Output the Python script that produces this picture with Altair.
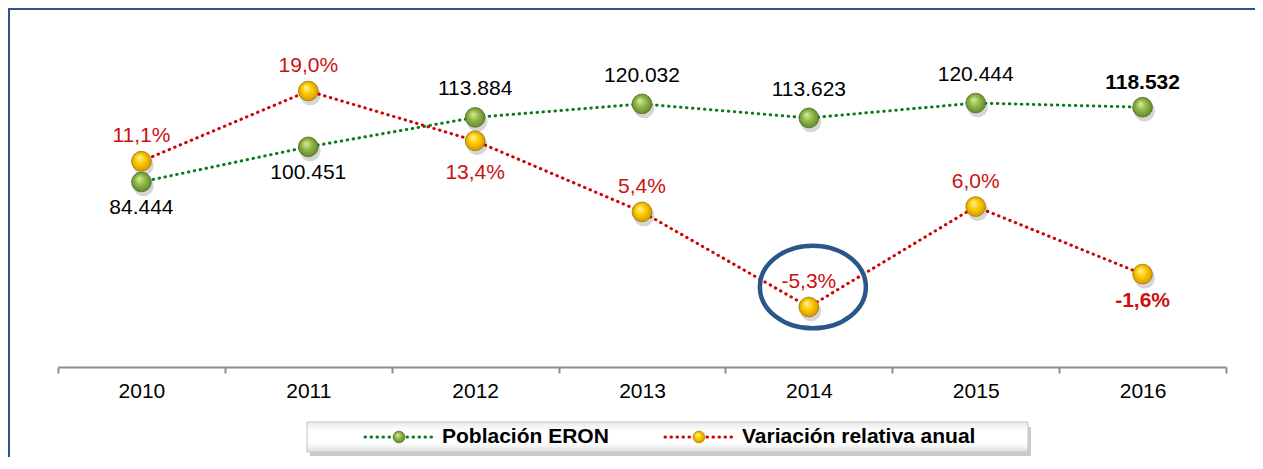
import json
import altair as alt
import pandas as pd

# ---------------- data ----------------
years = ["2010", "2011", "2012", "2013", "2014", "2015", "2016"]
poblacion = [84444, 100451, 113884, 120032, 113623, 120444, 118532]
variacion = [11.1, 19.0, 13.4, 5.4, -5.3, 6.0, -1.6]
series_names = ["Población ERON", "Variación relativa anual"]
green_labels_below = ["2010", "2011"]
red_labels_below = ["2012", "2016"]
highlight_year = "2014"

# ---------------- layout / style ----------------
W, H = 1168, 352
FONT = "Liberation Sans, Arial, sans-serif"
GREEN_LINE = "#0b7a1a"
RED_LINE = "#d20000"
RED_TEXT = "#cc1010"
FRAME = "#2a5689"

df = pd.DataFrame({
    "year": years,
    "idx": [i + 0.5 for i in range(len(years))],
    "pob": poblacion,
    "var": variacion,
})
df["pob_lbl"] = [f"{v:,}".replace(",", ".") for v in poblacion]
df["var_lbl"] = [f"{v:.1f}".replace(".", ",") + "%" for v in variacion]
last = years[-1]

xscale = alt.Scale(domain=[0, len(years)], nice=False, zero=False)
xaxis = alt.Axis(
    values=list(range(len(years) + 1)),
    labelExpr=f"datum.value < {len(years)} ? {json.dumps(years)}[datum.value] : ''",
    labelOffset=W / len(years) / 2,
    tickSize=6, tickWidth=2, tickColor="#8c8c8c",
    domainColor="#8c8c8c", domainWidth=2,
    labelFont=FONT, labelFontSize=21, labelColor="#000000",
    labelPadding=7, labelFlush=False, labelOverlap=False, labelBound=False,
    grid=False, title=None)
X = alt.X("idx:Q", scale=xscale, axis=xaxis)
YG = alt.Y("pob:Q", scale=alt.Scale(domain=[0, 160600], nice=False, zero=False), axis=None)
YR = alt.Y("var:Q", scale=alt.Scale(domain=[-12.05, 27.55], nice=False, zero=False), axis=None)

green_grad = alt.RadialGradient(
    gradient="radial", x1=0.38, y1=0.32, r1=0.0, x2=0.5, y2=0.5, r2=0.55,
    stops=[alt.GradientStop(color="#d6ef9c", offset=0),
           alt.GradientStop(color="#94bb4c", offset=0.45),
           alt.GradientStop(color="#5d8327", offset=1)])
yellow_grad = alt.RadialGradient(
    gradient="radial", x1=0.38, y1=0.3, r1=0.0, x2=0.5, y2=0.5, r2=0.55,
    stops=[alt.GradientStop(color="#fff6b0", offset=0),
           alt.GradientStop(color="#ffcc00", offset=0.45),
           alt.GradientStop(color="#cf9300", offset=1)])

base = alt.Chart(df)

line_style = dict(strokeWidth=3, strokeCap="round", strokeDash=[0.5, 5.5])

green_line = base.mark_line(color=GREEN_LINE, **line_style).encode(x=X, y=YG)
red_line = base.mark_line(color=RED_LINE, **line_style).encode(x=X, y=YR)

shadow_kw = dict(shape="circle", filled=True, color="#000000", opacity=0.16,
                 size=430, xOffset=2, yOffset=4)
green_shadow = base.mark_point(**shadow_kw).encode(x=X, y=YG)
red_shadow = base.mark_point(**shadow_kw).encode(x=X, y=YR)

green_pts = base.mark_point(shape="circle", filled=True, fill=green_grad, opacity=1,
                            stroke="#4f6d22", strokeWidth=0.8, size=390).encode(x=X, y=YG)
red_pts = base.mark_point(shape="circle", filled=True, fill=yellow_grad, opacity=1,
                          stroke="#a27400", strokeWidth=0.8, size=390).encode(x=X, y=YR)


def labels(sub, y, field, color, dy, bold=False):
    return alt.Chart(sub).mark_text(
        font=FONT, fontSize=21, color=color, dy=dy, baseline="middle",
        fontWeight="bold" if bold else "normal",
    ).encode(x=X, y=y, text=f"{field}:N")


g_below = df["year"].isin(green_labels_below)
r_below = df["year"].isin(red_labels_below)
is_last = df["year"] == last

label_layers = [
    labels(df[~g_below & ~is_last], YG, "pob_lbl", "#000000", -28),
    labels(df[g_below & ~is_last], YG, "pob_lbl", "#000000", 26),
    labels(df[is_last], YG, "pob_lbl", "#000000",
           26 if last in green_labels_below else -24, bold=True),
    labels(df[~r_below & ~is_last], YR, "var_lbl", RED_TEXT, -25),
    labels(df[r_below & ~is_last], YR, "var_lbl", RED_TEXT, 32),
    labels(df[is_last], YR, "var_lbl", RED_TEXT,
           27 if last in red_labels_below else -25, bold=True),
]

# highlight ellipse around the chosen year
ellipse = alt.Chart(df[df["year"] == highlight_year]).mark_point(
    shape="M-1,0 A1,0.78 0 1,1 1,0 A1,0.78 0 1,1 -1,0 Z",
    filled=False, stroke=FRAME, strokeWidth=4.5, opacity=1,
    size=106 * 106, xOffset=4, yOffset=-20,
).encode(x=X, y=YR)

one = alt.Data(values=[{}])

# frame (top and left border)
frame_top = alt.Chart(one).mark_rule(color=FRAME, strokeWidth=2).encode(
    x=alt.value(-50), x2=alt.value(W + 29), y=alt.value(-6))
frame_left = alt.Chart(one).mark_rule(color=FRAME, strokeWidth=2).encode(
    x=alt.value(-49), y=alt.value(-7), y2=alt.value(H + 92))

# legend box
legend_shadow = alt.Chart(one).mark_rect(color="#8f8f8f", opacity=0.45).encode(
    x=alt.value(252), x2=alt.value(973), y=alt.value(412), y2=alt.value(441))
legend_grad = alt.LinearGradient(
    gradient="linear", x1=0, y1=0, x2=0, y2=1,
    stops=[alt.GradientStop(color="#e9e9e9", offset=0),
           alt.GradientStop(color="#ffffff", offset=0.3),
           alt.GradientStop(color="#ffffff", offset=0.7),
           alt.GradientStop(color="#dedede", offset=1)])
legend_box = alt.Chart(one).mark_rect(fill=legend_grad, stroke="#c4c4c4", strokeWidth=1).encode(
    x=alt.value(249), x2=alt.value(970), y=alt.value(407), y2=alt.value(437))

legend_layers = []
for name, lcol, grad, stroke, x0 in [
    (series_names[0], GREEN_LINE, green_grad, "#4f6d22", 307),
    (series_names[1], RED_LINE, yellow_grad, "#a27400", 607),
]:
    legend_layers.append(alt.Chart(one).mark_rule(color=lcol, **line_style).encode(
        x=alt.value(x0), x2=alt.value(x0 + 67), y=alt.value(422)))
    legend_layers.append(alt.Chart(one).mark_point(
        shape="circle", filled=True, fill=grad, stroke=stroke, strokeWidth=0.6,
        opacity=1, size=140).encode(x=alt.value(x0 + 34), y=alt.value(422)))
    legend_layers.append(alt.Chart(one).mark_text(
        text=name, font=FONT, fontSize=21, fontWeight="bold", color="#000000",
        align="left", baseline="middle").encode(x=alt.value(x0 + 77), y=alt.value(422)))

chart = alt.layer(
    frame_top, frame_left,
    green_line, red_line,
    green_shadow, red_shadow,
    green_pts, red_pts,
    *label_layers,
    ellipse,
    legend_shadow, legend_box, *legend_layers,
).resolve_scale(y="independent").properties(
    width=W, height=H,
    autosize=alt.AutoSizeParams(type="none"),
    padding={"left": 50, "top": 7, "right": 29, "bottom": 90},
    background="#ffffff",
).configure_view(stroke=None)

chart.save("out.html", embed_options={"renderer": "svg", "actions": False})
